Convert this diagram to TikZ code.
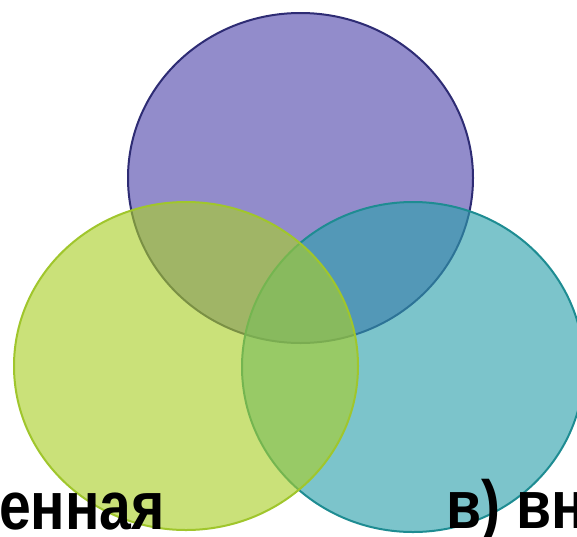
\documentclass[tikz,border=0pt]{standalone}
\usepackage{fontspec}
\setmainfont{Liberation Sans}
\newfontfamily\wordfont[FakeStretch=0.84]{Liberation Sans}
\definecolor{upperfill}{RGB}{80,70,172}
\definecolor{upperline}{RGB}{46,44,116}
\definecolor{leftfill}{RGB}{170,207,40}
\definecolor{leftline}{RGB}{160,198,44}
\definecolor{rightfill}{RGB}{45,160,172}
\definecolor{rightline}{RGB}{30,140,146}
\newcommand\bigword{\wordfont\fontsize{68}{68}\bfseries\selectfont}

\begin{document}
\begin{tikzpicture}[x=1pt,y=-1pt]
  \tikzstyle{setdisc}=[fill opacity=0.62, line width=2pt]
  \tikzstyle{wordnode}=[inner sep=0pt, anchor=base west, font=\bigword]
  \useasboundingbox[fill=white] (0,0) rectangle (577,536);
  % centres of the three sets
  \coordinate (upper) at (300.5,178);
  \coordinate (right) at (413,367);
  \coordinate (left) at (186,366);
  \draw[setdisc, fill=upperfill, draw=upperline] (upper) ellipse [x radius=172.5pt, y radius=165pt];
  \draw[setdisc, fill=rightfill, draw=rightline] (right) ellipse [x radius=171pt, y radius=165pt];
  \draw[setdisc, fill=leftfill, draw=leftline] (left) ellipse [x radius=172pt, y radius=164pt];
  % cut words at the bottom
  \node[wordnode] (leftword) at (-1,529) {енная};
  \node[wordnode] (rightword) at (446,528) {в) вн};
\end{tikzpicture}
\end{document}
